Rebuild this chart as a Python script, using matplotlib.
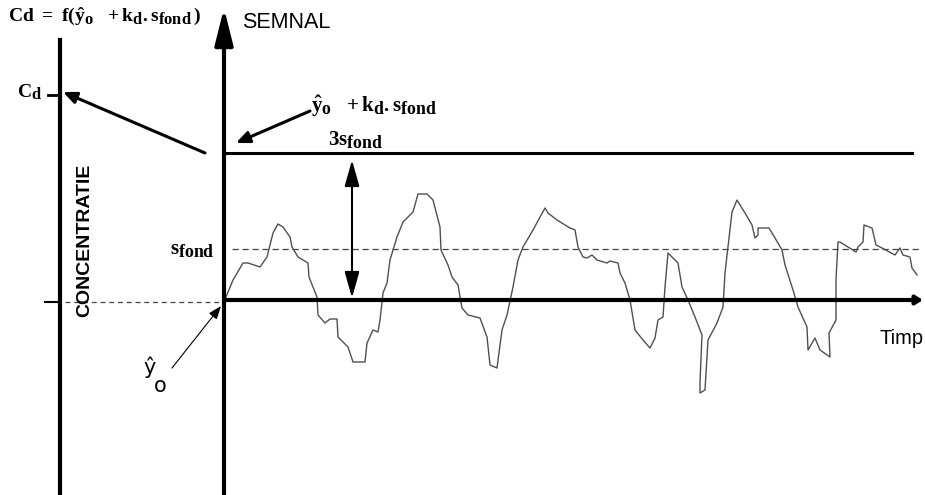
import matplotlib.pyplot as plt
import matplotlib._mathtext as mathtext_internal

# subscripts in the original are only slightly smaller than the base text
mathtext_internal.SHRINK_FACTOR = 0.85

# diagram drawn in pixel coordinates of the original figure (925 x 495)
W, H = 925, 495

# traced noisy signal (x = time, y = signal), pixel units
time_px = [226, 233, 243, 248, 260, 267, 273, 278, 283, 290, 292, 298, 308, 309,
           317, 318, 325, 330, 337, 338, 348, 353, 365, 367, 373, 378, 380, 383,
           387, 390, 393, 397, 403, 413, 418, 427, 433, 440, 441, 448, 452, 458,
           462, 468, 480, 487, 490, 497, 502, 507, 513, 518, 523, 533, 545, 548,
           557, 570, 575, 578, 583, 587, 592, 597, 607, 610, 618, 620, 625, 630,
           635, 643, 650, 655, 658, 663, 665, 668, 678, 682, 688, 695, 702, 700,
           700, 705, 708, 717, 723, 725, 728, 732, 737, 745, 752, 755, 758, 758,
           769, 775, 782, 785, 793, 798, 807, 808, 815, 820, 830, 829, 836, 836,
           838, 840, 848, 856, 858, 863, 864, 872, 876, 882, 895, 900, 903, 910,
           912, 917]
signal_px = [297, 280, 263, 263, 267, 257, 233, 224, 227, 237, 247, 257, 263, 277,
             297, 315, 323, 319, 319, 337, 347, 362, 362, 343, 330, 332, 320, 293,
             283, 260, 250, 237, 222, 212, 194, 194, 200, 227, 250, 265, 277, 285,
             308, 315, 318, 337, 365, 368, 330, 315, 287, 260, 247, 230, 208, 213,
             220, 228, 230, 247, 257, 258, 255, 260, 263, 261, 263, 273, 283, 300,
             330, 340, 348, 338, 320, 317, 287, 253, 263, 287, 300, 317, 335, 382,
             393, 390, 340, 323, 307, 273, 247, 212, 200, 213, 225, 238, 235, 228,
             228, 238, 250, 265, 290, 307, 327, 350, 338, 350, 357, 333, 320, 280,
             242, 242, 247, 252, 247, 242, 225, 228, 245, 248, 255, 248, 255, 257,
             268, 275]

x_left = 60      # concentration axis
x_sig = 224      # signal axis
y_zero = 300     # time axis / y_o level
y_cd = 95        # Cd level
y_lim = 153      # y_o + kd*s_fond level
y_sfond = 249    # s_fond level

plt.rcParams['mathtext.fontset'] = 'custom'
plt.rcParams['mathtext.rm'] = 'Liberation Serif:bold'
plt.rcParams['mathtext.it'] = 'Liberation Serif:bold'
plt.rcParams['mathtext.bf'] = 'Liberation Serif:bold'

fig = plt.figure(figsize=(W / 100, H / 100), dpi=100)
ax = fig.add_axes([0, 0, 1, 1])
ax.set_xlim(0, W)
ax.set_ylim(H, 0)
ax.axis('off')

# axes
ax.plot([x_left, x_left], [40, H], color='k', lw=3)
ax.plot([x_left - 12, x_left], [y_cd, y_cd], color='k', lw=2)
ax.plot([x_left - 15, x_left], [y_zero + 2, y_zero + 2], color='k', lw=1.5)
ax.annotate('', xy=(x_sig, 8), xytext=(x_sig, H),
            arrowprops=dict(arrowstyle='-|>,head_length=2.2,head_width=0.55',
                            color='k', lw=3, shrinkA=0, shrinkB=0))
ax.annotate('', xy=(923, y_zero), xytext=(x_sig, y_zero),
            arrowprops=dict(arrowstyle='-|>,head_length=0.4,head_width=0.25',
                            color='k', lw=3, shrinkA=0, shrinkB=0))

# levels
ax.plot([x_sig, 912], [y_lim, y_lim], color='k', lw=2.2)
ax.plot([232, 922], [y_sfond, y_sfond], color='#444444', lw=0.9, ls=(0, (5, 3)))
ax.plot([65, x_sig], [y_zero + 2, y_zero + 2], color='#444444', lw=0.9, ls=(0, (4, 3)))

# signal
ax.plot(time_px, signal_px, color='#505050', lw=1.0)

# double arrow 3 s_fond
ax.annotate('', xy=(352, 160), xytext=(352, 298),
            arrowprops=dict(arrowstyle='<|-|>,head_length=1.6,head_width=0.45',
                            color='k', lw=1.5, shrinkA=0, shrinkB=0))

# pointer arrows
ax.annotate('', xy=(63, 92), xytext=(205, 153),
            arrowprops=dict(arrowstyle='-|>,head_length=0.8,head_width=0.35',
                            color='k', lw=2.2, shrinkA=0, shrinkB=0))
ax.annotate('', xy=(236, 143), xytext=(310, 111),
            arrowprops=dict(arrowstyle='-|>,head_length=0.8,head_width=0.35',
                            color='k', lw=2.2, shrinkA=0, shrinkB=0))
ax.annotate('', xy=(221, 306), xytext=(172, 368),
            arrowprops=dict(arrowstyle='-|>,head_length=0.8,head_width=0.3',
                            color='k', lw=0.8, shrinkA=0, shrinkB=0))

# texts
ax.text(8, 16, r'$\mathrm{Cd\ =\ f(\hat{y}_o\ \ +k_d.s_{fond}\,)}$', fontsize=14,
        va='center', ha='left')
ax.text(42, 92, r'$\mathrm{C_d}$', fontsize=14, va='center', ha='right')
ax.text(170, 249, r'$\mathrm{s_{fond}}$', fontsize=15, va='center', ha='left')
ax.text(311, 106, r'$\mathrm{\hat{y}_o\ \ +k_d.s_{fond}}$', fontsize=15,
        va='center', ha='left')
ax.text(328, 139, r'$\mathrm{3s_{fond}}$', fontsize=15, va='center', ha='left')
ax.text(242, 22, 'SEMNAL', family='Liberation Sans', fontsize=15.5,
        va='center', ha='left')
ax.text(879, 338, 'Timp', family='Liberation Sans', fontsize=14.5,
        va='center', ha='left')
ax.text(85, 240, 'CONCENTRATIE', family='Liberation Sans', fontsize=14,
        fontweight='bold', rotation=90, va='center', ha='center')
ax.text(143, 367, '\u0177', family='DejaVu Sans', fontsize=15, va='center', ha='left')
ax.text(154, 386, 'o', family='DejaVu Sans', fontsize=15, va='center', ha='left')

fig.savefig('out.png', dpi=100)
